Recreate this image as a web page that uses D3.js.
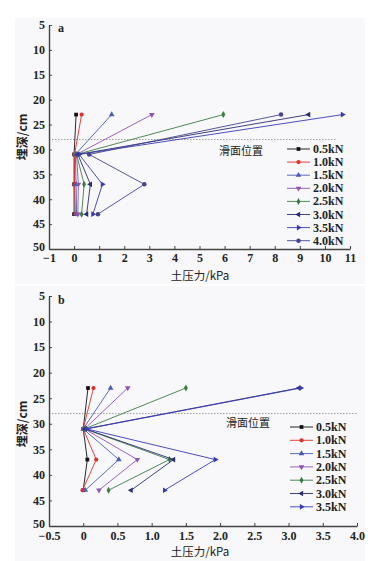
<!DOCTYPE html>
<html><head><meta charset="utf-8">
<script src="https://cdn.jsdelivr.net/npm/d3@7"></script>
<style>body{margin:0;background:#fff}svg{display:block}</style>
</head><body>
<script>
const depths = [23, 31, 37, 43];
const yTicks = [5, 10, 15, 20, 25, 30, 35, 40, 45, 50];
const slipDepth = 28;

const loadsA = ["0.5kN","1.0kN","1.5kN","2.0kN","2.5kN","3.0kN","3.5kN","4.0kN"];
const valuesA = [
  [0.08, 0.0, 0.0, 0.0],
  [0.3, 0.02, 0.02, 0.05],
  [1.5, 0.05, 0.08, 0.1],
  [3.1, 0.1, 0.17, 0.15],
  [5.95, 0.1, 0.4, 0.3],
  [9.35, 0.15, 0.65, 0.5],
  [10.7, 0.2, 1.13, 0.75],
  [8.25, 0.6, 2.8, 0.95]
];
const xTicksA = [-1,0,1,2,3,4,5,6,7,8,9,10,11];

const loadsB = ["0.5kN","1.0kN","1.5kN","2.0kN","2.5kN","3.0kN","3.5kN"];
const valuesB = [
  [0.07, 0.0, 0.06, 0.0],
  [0.15, 0.0, 0.19, -0.01],
  [0.4, 0.0, 0.52, 0.03],
  [0.65, 0.02, 0.79, 0.23],
  [1.5, 0.02, 1.26, 0.37],
  [3.15, 0.03, 1.32, 0.7],
  [3.18, 0.05, 1.93, 1.19]
];
const xTicksB = [-0.5,0,0.5,1.0,1.5,2.0,2.5,3.0,3.5,4.0];

const colors = ["#111111","#e0302a","#4b5bb5","#8e55b0","#3d7d45","#2b2d72","#3a3ab8","#45458e"];
const shapes = [
  {t:d3.symbolSquare, r:0, s:14},
  {t:d3.symbolCircle, r:0, s:14},
  {t:d3.symbolTriangle, r:0, s:14},
  {t:d3.symbolTriangle, r:180, s:14},
  {t:d3.symbolDiamond, r:0, s:14},
  {t:d3.symbolTriangle, r:-90, s:14},
  {t:d3.symbolTriangle, r:90, s:14},
  {t:d3.symbolCircle, r:0, s:16}
];

const W = 387, H = 561;
const svg = d3.select("body").append("svg").attr("width", W).attr("height", H);
const serif = "'Liberation Serif','DejaVu Serif',serif";
const fmtMinus = s => String(s).replace("-", "\u2212");

function panel(cfg) {
  svg.append("rect").attr("x", 15).attr("y", cfg.bgTop).attr("width", 350).attr("height", cfg.bgH).attr("fill", "#f8f8fa");
  const x = d3.scaleLinear().domain(cfg.xDom).range(cfg.xRange);
  const y = d3.scaleLinear().domain([5, 50]).range(cfg.yRange);
  const g = svg.append("g");

  // slip surface line
  g.append("line").attr("x1", x(cfg.xDom[0])).attr("x2", cfg.slipEnd)
    .attr("y1", y(slipDepth)).attr("y2", y(slipDepth))
    .attr("stroke", "#888").attr("stroke-width", 0.8).attr("stroke-dasharray", "1.5,1.5");

  // axes
  const yAxis = d3.axisLeft(y).tickValues(yTicks).tickSizeInner(-3).tickSizeOuter(0).tickPadding(4);
  const ya = g.append("g").attr("transform", `translate(${x(cfg.xDom[0])},0)`).call(yAxis);
  const xAxis = d3.axisBottom(x).tickValues(cfg.xTicks).tickSizeInner(-3).tickSizeOuter(0).tickPadding(cfg.xPad)
    .tickFormat(cfg.xFmt);
  const xa = g.append("g").attr("transform", `translate(0,${y(50)})`).call(xAxis);
  [ya, xa].forEach(a => {
    a.select(".domain").attr("stroke", "#444").attr("stroke-width", 1.4);
    a.selectAll(".tick line").attr("stroke", "#444");
    a.selectAll("text").attr("font-family", serif).attr("font-size", 12).attr("font-weight", "bold").attr("fill", "#222");
  });
  // nudge the bottom y label up so it clears the x tick labels
  ya.selectAll(".tick").filter(d => d === 50).select("text").attr("dy", "0.1em");

  // series
  cfg.values.forEach((vals, i) => {
    const pts = vals.map((v, j) => [x(v), y(depths[j])]);
    g.append("path").attr("d", d3.line()(pts)).attr("fill", "none")
      .attr("stroke", colors[i]).attr("stroke-width", 0.9);
    pts.forEach(p => {
      g.append("path").attr("d", d3.symbol().type(shapes[i].t).size(shapes[i].s))
        .attr("transform", `translate(${p[0]},${p[1]}) rotate(${shapes[i].r})`)
        .attr("fill", colors[i]);
    });
  });

  // panel letter
  g.append("text").attr("x", 58).attr("y", y(6.5)).text(cfg.letter)
    .attr("font-family", serif).attr("font-weight", "bold").attr("font-size", 12).attr("fill", "#222");

  // axis titles
  g.append("text").attr("x", 200).attr("y", cfg.xTitleY).attr("text-anchor", "middle")
    .attr("font-family", "'Noto Sans CJK SC',serif").attr("font-size", 11.5).attr("fill", "#222")
    .text("土压力/kPa");
  g.append("text").attr("transform", `translate(27,${cfg.yTitleY}) rotate(-90)`).attr("text-anchor", "middle")
    .attr("font-family", "'Noto Sans CJK SC',serif").attr("font-size", 12).attr("font-weight", "bold").attr("fill", "#222")
    .text("埋深/cm");

  // slip label
  g.append("text").attr("x", cfg.slipLabel[0]).attr("y", cfg.slipLabel[1])
    .attr("font-family", "'Noto Sans CJK SC',serif").attr("font-size", 11).attr("fill", "#222")
    .text("滑面位置");

  // legend
  cfg.loads.forEach((name, i) => {
    const ly = cfg.legTop + i * cfg.legStep;
    g.append("line").attr("x1", cfg.legX).attr("x2", cfg.legX + 23).attr("y1", ly).attr("y2", ly)
      .attr("stroke", colors[i]).attr("stroke-width", 0.9);
    g.append("path").attr("d", d3.symbol().type(shapes[i].t).size(shapes[i].s))
      .attr("transform", `translate(${cfg.legX + 11.5},${ly}) rotate(${shapes[i].r})`).attr("fill", colors[i]);
    g.append("text").attr("x", cfg.legX + 26).attr("y", ly + 4).text(name)
      .attr("font-family", serif).attr("font-weight", "bold").attr("font-size", 12).attr("fill", "#222");
  });
}

panel({
  letter: "a", bgTop: 18, bgH: 266, xPad: 4,
  xDom: [-1, 11], xRange: [49, 350], yRange: [25, 249], xTicks: xTicksA,
  xFmt: d => fmtMinus(d), values: valuesA, loads: loadsA, slipEnd: 337,
  xTitleY: 280, yTitleY: 137, slipLabel: [219, 155],
  legX: 287, legTop: 149, legStep: 13.1
});
panel({
  letter: "b", bgTop: 286, bgH: 275, xPad: 5,
  xDom: [-0.5, 4], xRange: [49, 357], yRange: [296, 526], xTicks: xTicksB,
  xFmt: d => d === 0 ? "0" : fmtMinus(d3.format(".1f")(d)), values: valuesB, loads: loadsB, slipEnd: 357,
  xTitleY: 556, yTitleY: 424, slipLabel: [226, 427],
  legX: 290, legTop: 427, legStep: 13.3
});
</script>
</body></html>
